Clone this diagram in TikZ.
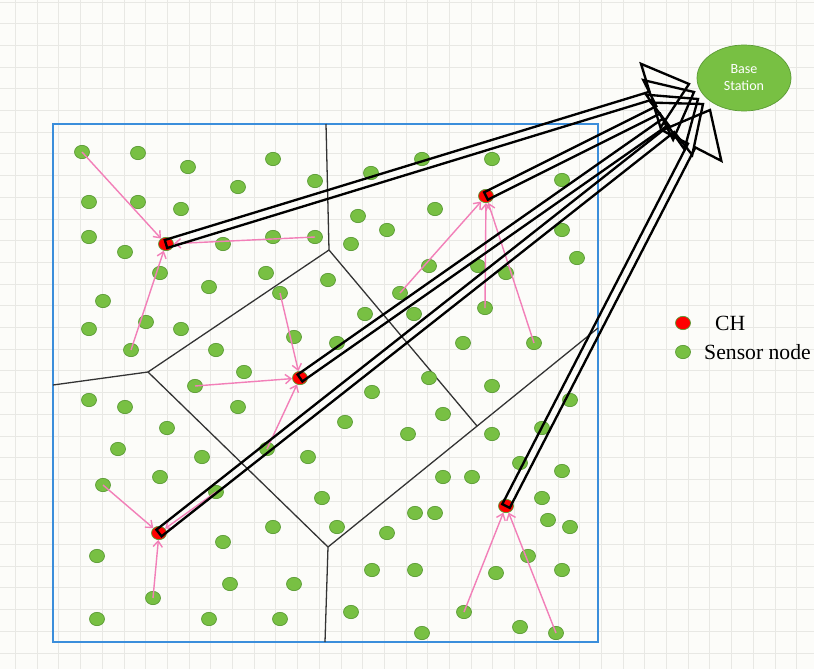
\documentclass[tikz,border=0pt]{standalone}
\usepackage{fontspec}
\setmainfont{Liberation Serif}
\newfontfamily\bsfont{Carlito}
\usetikzlibrary{positioning, arrows.meta, calc, shapes.geometric}

\definecolor{nodegreen}{HTML}{78C043}
\definecolor{nodeedge}{HTML}{5B9B35}
\definecolor{linkpink}{HTML}{F27FB8}
\definecolor{fieldblue}{HTML}{3B8EDB}
\definecolor{gridgray}{HTML}{E8E8E4}
\definecolor{paper}{HTML}{FCFCF9}

\tikzset{
  sensor/.style={ellipse, draw=nodeedge, fill=nodegreen, line width=0.6pt,
    minimum width=0.45cm, minimum height=0.40cm, inner sep=0pt},
  head/.style={sensor, fill=red},
  member/.style={draw=linkpink, line width=1.2pt, -{Straight Barb[length=5pt,width=8pt]}},
  uplink/.style={draw=black, line width=2pt, line join=miter},
  border/.style={draw=black!80, line width=1.1pt},
  gridline/.style={draw=gridgray, line width=0.6pt},
}

\begin{document}
\begin{tikzpicture}[x=0.03cm, y=-0.03cm]
\useasboundingbox (0,0) rectangle (814,669);
\fill[paper] (0,0) rectangle (814,669);

% background grid
\foreach \gx in {15.4,37.1,...,814} \draw[gridline] (\gx,0) -- (\gx,669);
\foreach \gy in {1.9,23.6,...,669} \draw[gridline] (0,\gy) -- (814,\gy);

% field and cluster borders
\draw[fieldblue, line width=1.5pt] (53,124) rectangle (598,642);
\coordinate (va) at (326,124);
\coordinate (vb) at (329,250);
\coordinate (vc) at (148,372);
\coordinate (vd) at (53,385);
\coordinate (ve) at (328,547);
\coordinate (vf) at (325,642);
\coordinate (vg) at (477,426);
\coordinate (vh) at (598,328);
\draw[border] (va) -- (vb) -- (vc) -- (vd);
\draw[border] (vc) -- (ve) -- (vf);
\draw[border] (ve) -- (vh);
\draw[border] (vb) -- (vg);

% ordinary sensor nodes
\foreach \px/\py [count=\i] in {
  138/153, 188/167, 273/159, 238/187, 315/181, 89/202, 138/202, 181/209,
  89/237, 125/252, 223/244, 273/237, 160/273, 209/287, 266/273, 328/280,
  103/301, 89/329, 146/322, 181/329, 294/337, 216/350,
  371/173, 422/159, 492/159, 562/180, 358/216, 435/209, 351/244, 387/230,
  562/230, 577/258, 429/266, 478/266, 506/273, 365/314, 414/314, 337/343,
  463/343,
  244/372, 89/400, 125/407, 238/407, 167/428, 118/449, 202/457, 308/457,
  160/477, 322/498, 273/527, 223/542, 97/556, 230/584, 294/584, 97/619,
  209/619, 280/619,
  429/378, 372/392, 492/386, 570/400, 345/422, 443/414, 408/434, 492/434,
  542/428, 520/463, 562/471, 443/477, 472/477, 542/498, 415/513, 435/513,
  548/520, 570/527, 337/527, 387/533, 528/556, 372/570, 415/570, 496/573,
  562/570, 351/612, 520/627, 422/633}
  \node[sensor] (s\i) at (\px,\py) {};

% cluster members
\node[sensor] (m11) at (82,152) {};
\node[sensor] (m12) at (131,350) {};
\node[sensor] (m13) at (315,237) {};
\node[sensor] (m21) at (400,293) {};
\node[sensor] (m22) at (485,308) {};
\node[sensor] (m23) at (534,343) {};
\node[sensor] (m31) at (280,293) {};
\node[sensor] (m32) at (195,386) {};
\node[sensor] (m33) at (267,449) {};
\node[sensor] (m41) at (103,485) {};
\node[sensor] (m42) at (153,598) {};
\node[sensor] (m43) at (216,492) {};
\node[sensor] (m51) at (464,612) {};
\node[sensor] (m52) at (556,633) {};

% cluster heads
\node[head] (ch1) at (166,244) {};
\node[head] (ch2) at (486,196) {};
\node[head] (ch3) at (300,378) {};
\node[head] (ch4) at (159,533) {};
\node[head] (ch5) at (506,506) {};

\foreach \m/\c in {m11/ch1, m12/ch1, m13/ch1, m21/ch2, m22/ch2, m23/ch2,
  m31/ch3, m32/ch3, m33/ch3, m41/ch4, m42/ch4, m43/ch4, m51/ch5, m52/ch5}
  \draw[member] (\m.center) -- (\c);

% base station
\node[ellipse, draw=nodeedge, fill=nodegreen, line width=0.6pt,
  minimum width=2.82cm, minimum height=1.98cm, align=center, text=white,
  font=\bsfont\fontsize{12}{14.5}\selectfont] (bs) at (744,78) {Base\\Station};

\coordinate (in1) at (689,84);
\coordinate (in2) at (694,92);
\coordinate (in3) at (698,99);
\coordinate (in4) at (703,104);
\coordinate (in5) at (710,110);

% links from the heads to the base station
\foreach \c/\t in {ch1/in1, ch2/in2, ch3/in3, ch4/in4, ch5/in5} {
  \coordinate (\c-neck) at ($(\t)!1.2cm!(\c.center)$);
  \draw[uplink] ($(\c.center)!0.125cm!90:(\t)$) -- ($(\c-neck)!0.125cm!90:(\t)$)
    -- ($(\c-neck)!1cm!90:(\t)$) -- (\t) -- ($(\c-neck)!1cm!-90:(\t)$)
    -- ($(\c-neck)!0.125cm!-90:(\t)$) -- ($(\c.center)!0.125cm!-90:(\t)$) -- cycle;
}

% legend
\node[head] (key-ch) at (683,323) {};
\node[sensor] (key-sn) at (683,352) {};
\node[anchor=west, inner sep=0pt, font=\fontsize{18.5}{20}\selectfont] (key-ch-text) at (715,323) {CH};
\node[anchor=west, inner sep=0pt, font=\fontsize{18.5}{20}\selectfont] (key-sn-text) at (704,352) {Sensor node};
\end{tikzpicture}
\end{document}
